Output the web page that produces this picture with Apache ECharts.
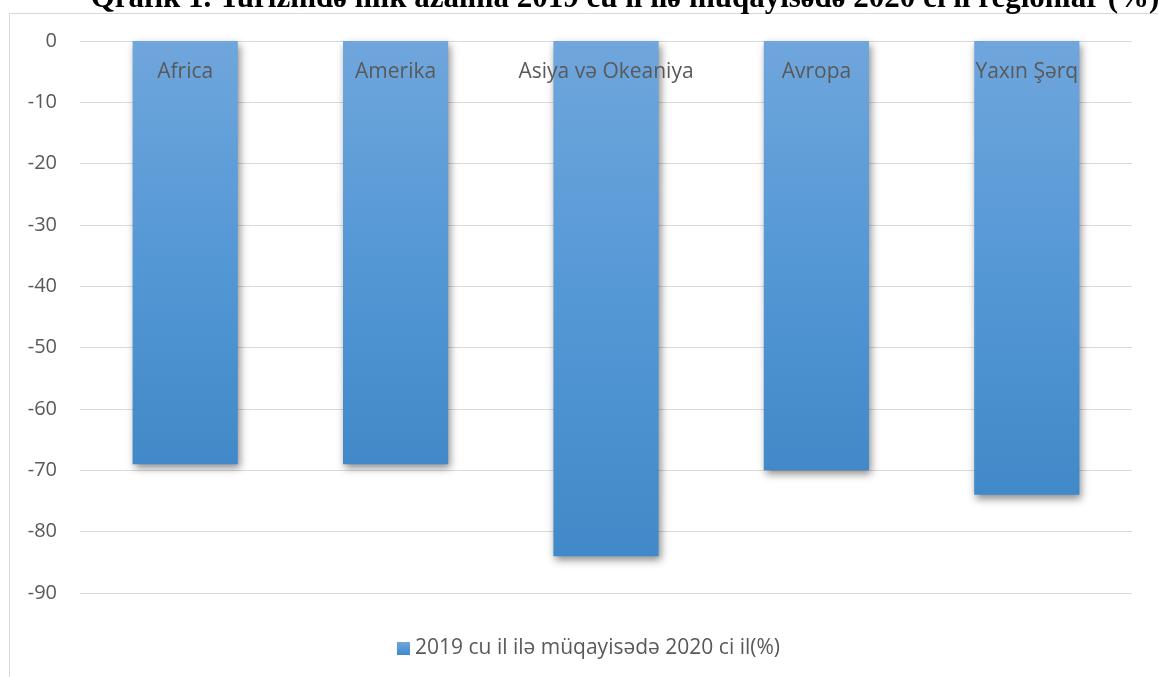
<!DOCTYPE html>
<html>
<head>
<meta charset="utf-8">
<script src="https://cdn.jsdelivr.net/npm/echarts@6/dist/echarts.min.js"></script>
<style>
	html, body { margin: 0; padding: 0; background: #fff; }
	#chart { width: 1158px; height: 677px; }
</style>
</head>
<body>
<div id="chart"></div>
<script>
// data
var regions = ['Africa', 'Amerika', 'Asiya və Okeaniya', 'Avropa', 'Yaxın Şərq'];
var change = [-69, -69, -84, -70, -74];
var seriesName = '2019 cu il ilə müqayisədə 2020 ci il(%)';
var chartTitle = 'Qrafik 1. Turizmdə illik azalma 2019 cu il ilə müqayisədə 2020 ci il regionlar (%)';

var chart = echarts.init(document.getElementById('chart'));
var option = {
	animation: false,
	title: {
		text: chartTitle,
		left: 620,
		textAlign: 'center',
		top: -22,
		textStyle: {
			fontFamily: 'Liberation Serif',
			fontWeight: 'bold',
			fontSize: 31,
			color: '#000'
		}
	},
	graphic: [{ //chart frame
		type: 'rect',
		shape: { x: 9.5, y: 13.5, width: 1170, height: 700 },
		style: { fill: 'none', stroke: '#d9d9d9', lineWidth: 1 },
		silent: true
	}],
	legend: {
		data: [seriesName],
		left: 392,
		top: 633,
		icon: 'rect',
		itemWidth: 13,
		itemHeight: 13,
		itemGap: 4,
		textStyle: { fontFamily: 'Open Sans', fontSize: 21, color: '#595959' }
	},
	grid: { left: 80, right: 26, top: 41, bottom: 84 },
	xAxis: {
		type: 'category',
		data: regions,
		position: 'top',
		z: 10,
		axisLine: { show: false },
		axisTick: { show: false },
		axisLabel: {
			inside: true,
			interval: 0,
			margin: 21,
			fontFamily: 'Open Sans',
			fontSize: 21,
			color: '#595959'
		}
	},
	yAxis: {
		type: 'value',
		min: -90,
		max: 0,
		interval: 10,
		axisLine: { show: false },
		axisTick: { show: false },
		axisLabel: { margin: 23, fontFamily: 'Open Sans', fontSize: 20, color: '#595959' },
		splitLine: { lineStyle: { color: '#d9d9d9', width: 1 } }
	},
	series: [{
		name: seriesName,
		type: 'bar',
		data: change,
		barWidth: '50%',
		itemStyle: {
			color: new echarts.graphic.LinearGradient(0, 0, 0, 1, [
				{ offset: 0, color: '#6fa6dc' },
				{ offset: 0.5, color: '#5598d6' },
				{ offset: 1, color: '#4189c8' }
			]),
			shadowColor: 'rgba(0,0,0,0.45)',
			shadowBlur: 8,
			shadowOffsetX: 2,
			shadowOffsetY: 4
		}
	}]
};
chart.setOption(option);
window.onresize = chart.resize;
</script>
</body>
</html>
